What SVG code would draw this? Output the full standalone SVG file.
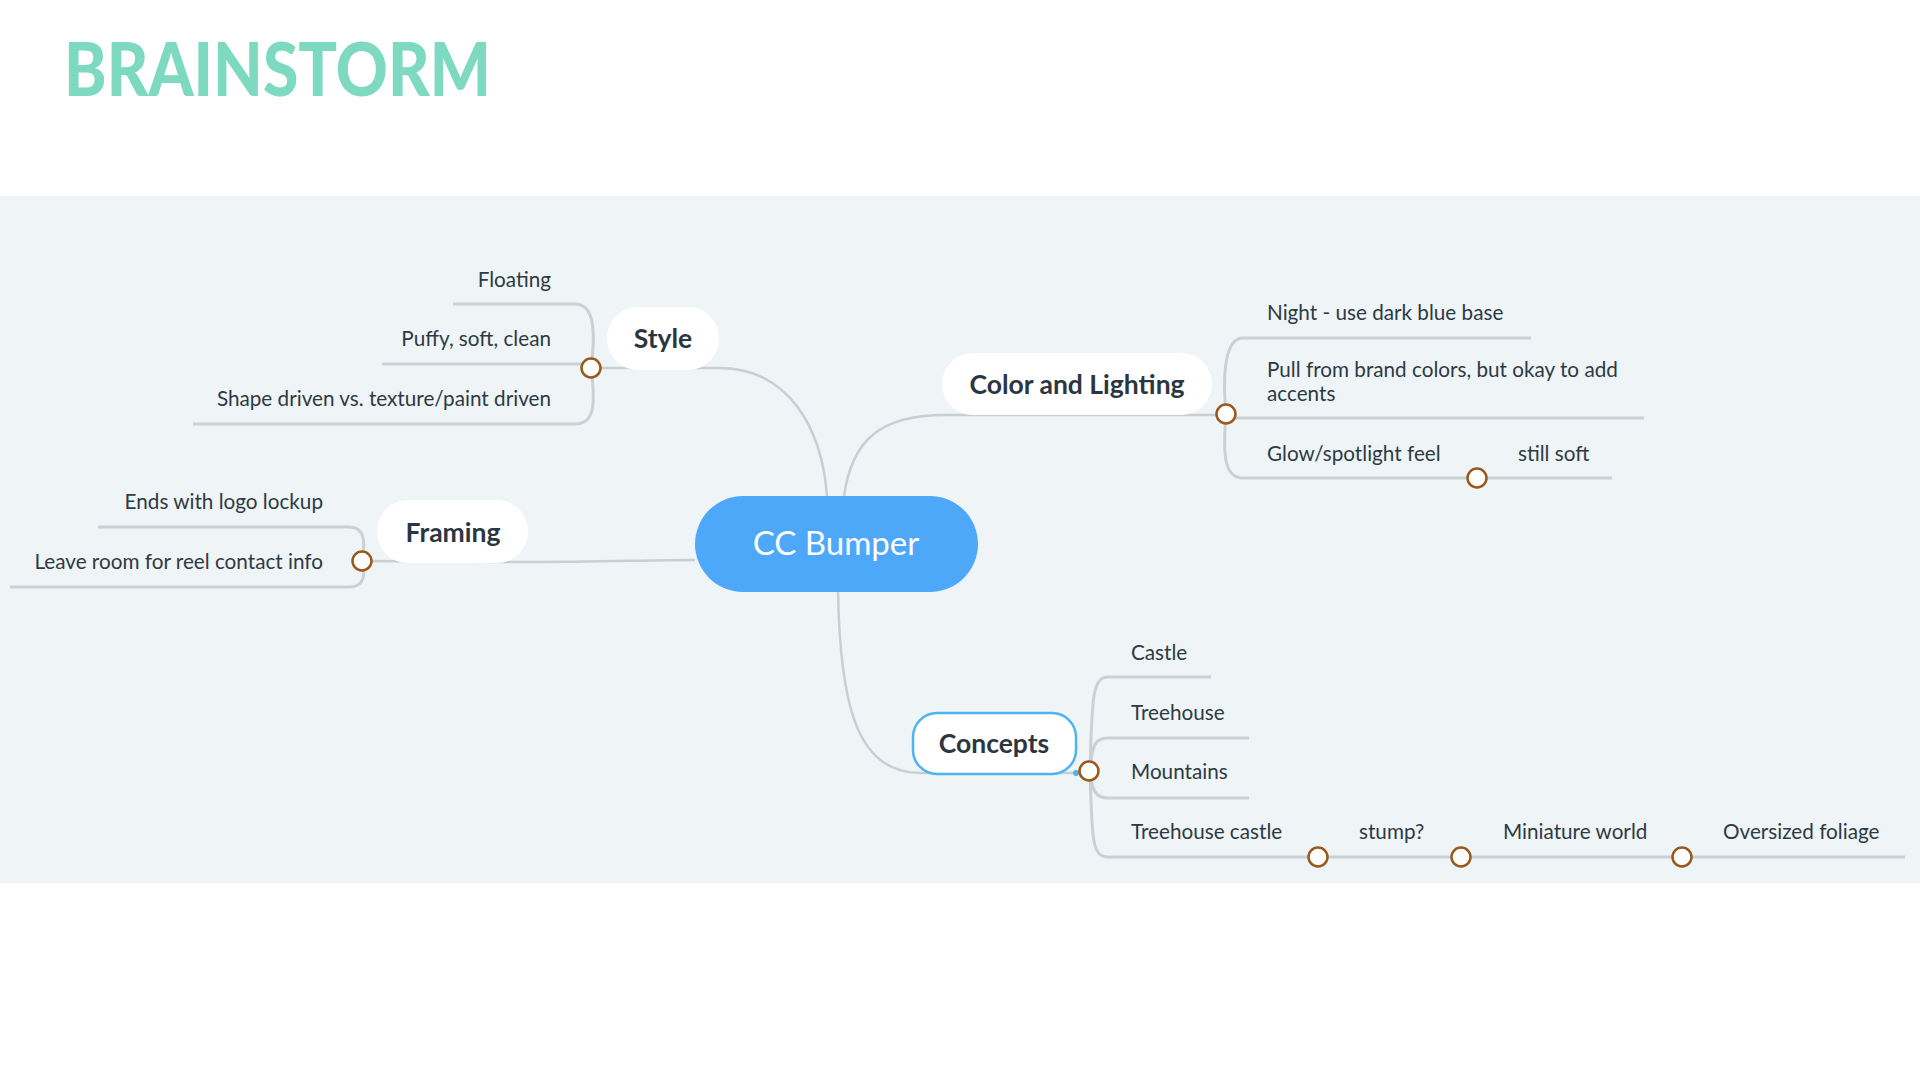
<svg xmlns="http://www.w3.org/2000/svg" width="1920" height="1080" viewBox="0 0 1920 1080">
<style>
.t{font-family:Lato,"Noto Sans",sans-serif;font-size:20.7px;fill:#2d3a44}
.nb{font-family:Lato,"Noto Sans",sans-serif;font-size:26.5px;font-weight:700;fill:#2b3640;text-anchor:middle}
.box{fill:#ffffff}
.c{fill:none;stroke:#c9ced2;stroke-width:2.5}
.u{fill:none;stroke:#cbd0d4;stroke-width:3}
.k{fill:#ffffff;stroke:#98591a;stroke-width:2.5}
</style>
<rect width="1920" height="1080" fill="#ffffff"/>
<rect x="0" y="196" width="1920" height="687" fill="#eff4f7"/>
<text x="64" y="96" font-family="Lato,'Noto Sans',sans-serif" font-weight="900" font-size="74" fill="#7ed9c1" textLength="427" lengthAdjust="spacingAndGlyphs">BRAINSTORM</text>

<g id="connectors">
  <path class="c" d="M591 368 L719 368 C790 368 822 430 827 496"/>
  <path class="c" d="M844 496 C852 440 880 415 945 415 L1226 415"/>
  <path class="c" d="M362 561 L528 562 C600 562 650 560 695 560"/>
  <path class="c" d="M838 591 C840 700 855 773 920 773 L1089 773"/>
  <path class="u" d="M591 368 C596 330 594 304 575 304 L453 304"/>
  <path class="u" d="M591 364 L382 364"/>
  <path class="u" d="M591 368 C596 406 594 424 575 424 L193 424"/>
  <path class="u" d="M362 561 C366 540 364 527 349 527 L98 527"/>
  <path class="u" d="M362 561 C366 575 364 587 349 587 L10 587"/>
  <path class="u" d="M1226 414 C1222 370 1226 338 1243 338 L1531 338"/>
  <path class="u" d="M1226 414 L1226 418 L1644 418"/>
  <path class="u" d="M1226 414 C1222 460 1226 478 1243 478 L1612 478"/>
  <path class="u" d="M1090 771 C1092 700 1092 677 1108 677 L1211 677"/>
  <path class="u" d="M1090 771 C1092 745 1095 738 1108 738 L1249 738"/>
  <path class="u" d="M1090 771 C1092 790 1095 798 1108 798 L1249 798"/>
  <path class="u" d="M1090 771 C1092 840 1092 857 1108 857 L1905 857"/>
</g>

<g id="center">
  <rect x="695" y="496" width="283" height="96" rx="48" fill="#4ea8fa"/>
  <text x="836" y="555" font-family="Lato,'Noto Sans',sans-serif" font-size="33" fill="#ffffff" text-anchor="middle">CC Bumper</text>
</g>

<g id="style">
  <rect class="box" x="607" y="307" width="112" height="63" rx="31"/>
  <text class="nb" x="663" y="348">Style</text>
  <circle class="k" cx="591" cy="368" r="9.5"/>
</g>
<g id="style-children">
  <text class="t" x="551" y="287" text-anchor="end">Floating</text>
  <text class="t" x="551" y="346" text-anchor="end">Puffy, soft, clean</text>
  <text class="t" x="551" y="406" text-anchor="end">Shape driven vs. texture/paint driven</text>
</g>

<g id="framing">
  <rect class="box" x="377" y="500" width="151" height="63" rx="31"/>
  <text class="nb" x="453" y="542">Framing</text>
  <circle class="k" cx="362" cy="561" r="9.5"/>
</g>
<g id="framing-children">
  <text class="t" x="323" y="509" text-anchor="end">Ends with logo lockup</text>
  <text class="t" x="323" y="569" text-anchor="end">Leave room for reel contact info</text>
</g>

<g id="color">
  <rect class="box" x="942" y="353" width="270" height="62" rx="31"/>
  <text class="nb" x="1077" y="394">Color and Lighting</text>
  <circle class="k" cx="1226" cy="414" r="9.5"/>
</g>
<g id="color-children">
  <text class="t" x="1267" y="320">Night - use dark blue base</text>
  <text class="t" x="1267" y="377">Pull from brand colors, but okay to add</text>
  <text class="t" x="1267" y="401">accents</text>
  <text class="t" x="1267" y="461">Glow/spotlight feel</text>
  <circle class="k" cx="1477" cy="478" r="9.5"/>
  <text class="t" x="1518" y="461">still soft</text>
</g>

<g id="concepts">
  <rect x="913" y="713" width="163" height="61" rx="24" fill="#ffffff" stroke="#4db3f3" stroke-width="2.5"/>
  <circle cx="1076" cy="773" r="3" fill="#4db3f3"/>
  <text class="nb" x="994" y="753">Concepts</text>
  <circle class="k" cx="1089" cy="771" r="9.5"/>
</g>
<g id="concepts-children">
  <text class="t" x="1131" y="660">Castle</text>
  <text class="t" x="1131" y="720">Treehouse</text>
  <text class="t" x="1131" y="779">Mountains</text>
  <text class="t" x="1131" y="839">Treehouse castle</text>
  <circle class="k" cx="1318" cy="857" r="9.5"/>
  <text class="t" x="1359" y="839">stump?</text>
  <circle class="k" cx="1461" cy="857" r="9.5"/>
  <text class="t" x="1503" y="839">Miniature world</text>
  <circle class="k" cx="1682" cy="857" r="9.5"/>
  <text class="t" x="1723" y="839">Oversized foliage</text>
</g>
</svg>
